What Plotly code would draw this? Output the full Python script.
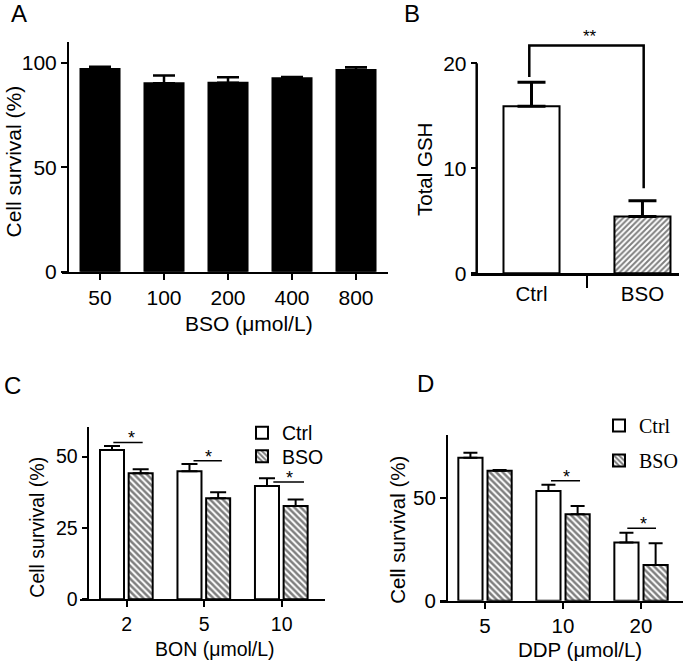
import plotly.graph_objects as go

W, H = 685, 662
FONT = "Arial, Liberation Sans, sans-serif"
SERIF = "Times New Roman, Liberation Serif, serif"

# ---------------- data ----------------
a_cats = ["50", "100", "200", "400", "800"]
a_vals = [97.0, 90.1, 90.4, 92.5, 96.5]
a_err = [1.0, 3.7, 2.6, 0.6, 1.3]

b_cats = ["Ctrl", "BSO"]
b_vals = [15.9, 5.4]
b_err = [2.3, 1.5]
b_sig_y = [18.7, 21.7, 8.1]   # left leg bottom, top, right leg bottom

c_cats = ["2", "5", "10"]
c_ctrl = [52.3, 44.9, 39.7]
c_ctrl_err = [1.4, 2.5, 2.7]
c_bso = [44.2, 35.4, 32.7]
c_bso_err = [1.4, 2.1, 2.3]
c_sig = [55.0, 48.6, 41.1]

d_cats = ["5", "10", "20"]
d_ctrl = [69.4, 53.2, 28.3]
d_ctrl_err = [2.4, 3.0, 4.7]
d_bso = [63.1, 41.9, 17.3]
d_bso_err = [0.3, 4.1, 10.6]
d_sig = [None, 58.2, 35.1]


def px_x(p):
    return p / W


def px_y(p):
    return 1 - p / H


fig = go.Figure()

# ---------------- Panel A ----------------
fig.add_trace(go.Bar(
    x=a_cats, y=a_vals, width=0.61,
    marker=dict(color="black", line=dict(color="black", width=2)),
    error_y=dict(type="data", symmetric=False, array=a_err,
                 arrayminus=[0] * len(a_err), color="black", thickness=2.5, width=11),
    xaxis="x", yaxis="y", showlegend=False))

# ---------------- Panel B ----------------
fig.add_trace(go.Bar(
    x=[0, 1], y=b_vals, width=0.505,
    marker=dict(color="white", line=dict(color="black", width=2),
                pattern=dict(shape=["", "/"], fgcolor="black", bgcolor="white",
                             size=4, solidity=0.5)),
    error_y=dict(type="data", symmetric=False, array=b_err,
                 arrayminus=[0, 0], color="black", thickness=3, width=14),
    xaxis="x2", yaxis="y2", showlegend=False))

# ---------------- Panel C ----------------
fig.add_trace(go.Bar(
    x=c_cats, y=c_ctrl, name="Ctrl", width=0.31, offset=-0.345,
    marker=dict(color="white", line=dict(color="black", width=2)),
    error_y=dict(type="data", symmetric=False, array=c_ctrl_err,
                 arrayminus=[0] * 3, color="black", thickness=2, width=8),
    xaxis="x3", yaxis="y3", legend="legend"))
fig.add_trace(go.Bar(
    x=c_cats, y=c_bso, name="BSO", width=0.31, offset=0.025,
    marker=dict(color="white", line=dict(color="black", width=2),
                pattern=dict(shape="\\", fgcolor="black", bgcolor="white",
                             size=4.5, solidity=0.55)),
    error_y=dict(type="data", symmetric=False, array=c_bso_err,
                 arrayminus=[0] * 3, color="black", thickness=2, width=8),
    xaxis="x3", yaxis="y3", legend="legend3"))

# ---------------- Panel D ----------------
fig.add_trace(go.Bar(
    x=d_cats, y=d_ctrl, name="Ctrl", width=0.31, offset=-0.342,
    marker=dict(color="white", line=dict(color="black", width=2)),
    error_y=dict(type="data", symmetric=False, array=d_ctrl_err,
                 arrayminus=[0] * 3, color="black", thickness=2, width=7),
    xaxis="x4", yaxis="y4", legend="legend2"))
fig.add_trace(go.Bar(
    x=d_cats, y=d_bso, name="BSO", width=0.31, offset=0.032,
    marker=dict(color="white", line=dict(color="black", width=2),
                pattern=dict(shape="\\", fgcolor="black", bgcolor="white",
                             size=4.5, solidity=0.55)),
    error_y=dict(type="data", symmetric=False, array=d_bso_err,
                 arrayminus=[0] * 3, color="black", thickness=2, width=7),
    xaxis="x4", yaxis="y4", legend="legend4"))


def axis_common(size):
    return dict(showgrid=False, zeroline=False, showline=True, linecolor="black",
                linewidth=2, ticks="outside", tickcolor="black", tickwidth=2,
                automargin=False,
                tickfont=dict(family=FONT, size=size, color="black"), fixedrange=True)


fig.update_layout(
    # Panel A
    xaxis=dict(axis_common(21), domain=[px_x(62), px_x(388)], range=[-0.594, 4.5],
               anchor="y", type="category", ticklen=6),
    yaxis=dict(axis_common(21), domain=[px_y(271.7), px_y(41.7)], range=[0, 110],
               anchor="free", position=px_x(68), tickvals=[0, 50, 100], ticklen=6),
    # Panel B
    xaxis2=dict(axis_common(20.5), domain=[px_x(470.7), px_x(679.3)], range=[-0.548, 1.332],
                anchor="y2", tickvals=[0, 1], ticktext=b_cats, ticks="", linewidth=2.5,
                minor=dict(tickvals=[0.5], ticks="outside", ticklen=12, tickwidth=2,
                           tickcolor="black")),
    yaxis2=dict(axis_common(21), domain=[px_y(273.3), px_y(42.3)], range=[0, 22],
                anchor="free", position=px_x(476.7), tickvals=[0, 10, 20], ticklen=6,
                showline=False),
    # Panel C
    xaxis3=dict(axis_common(19.5), domain=[px_x(80), px_x(325)], range=[-0.603, 2.559],
                anchor="y3", type="category", ticklen=6),
    yaxis3=dict(axis_common(19.5), domain=[px_y(599.3), px_y(426.7)], range=[0, 60.5],
                anchor="free", position=px_x(88.3), tickvals=[0, 25, 50], ticklen=6,
                linewidth=1.5),
    # Panel D
    xaxis4=dict(axis_common(20.5), domain=[px_x(440), px_x(683)], range=[-0.577, 2.538],
                anchor="y4", type="category", ticklen=6),
    yaxis4=dict(axis_common(20.5), domain=[px_y(600.7), px_y(435)], range=[0, 80.4],
                anchor="free", position=px_x(446.7), tickvals=[0, 50], ticklen=6,
                linewidth=1.5),
)

shapes = []
# Panel B y-axis line from 0 to 20 only
yb0, yb1 = px_y(273.3), px_y(42.3)
shapes.append(dict(type="line", xref="paper", yref="paper",
                   x0=px_x(476.7), x1=px_x(476.7), y0=yb0,
                   y1=yb0 + (yb1 - yb0) * 20 / 22,
                   line=dict(color="black", width=2.5)))
# Panel B significance bracket
shapes.append(dict(type="path", xref="x2", yref="y2",
                   path=f"M -0.02,{b_sig_y[0]} L -0.02,{b_sig_y[1]} L 1.011,{b_sig_y[1]} L 1.011,{b_sig_y[2]}",
                   line=dict(color="black", width=2.5)))

# Panel C significance lines
c_sig_x = [(-0.173, 0.206), (-0.138, 0.228), (-0.108, 0.288)]
for i, yv in enumerate(c_sig):
    x0, x1 = c_sig_x[i]
    shapes.append(dict(type="line", xref="x3", yref="y3", x0=i + x0, x1=i + x1,
                       y0=yv, y1=yv, line=dict(color="black", width=1.5)))
d_sig_x = [None, (-0.154, 0.218), (-0.176, 0.192)]
for i, yv in enumerate(d_sig):
    if yv is None:
        continue
    x0, x1 = d_sig_x[i]
    shapes.append(dict(type="line", xref="x4", yref="y4", x0=i + x0, x1=i + x1,
                       y0=yv, y1=yv, line=dict(color="black", width=1.5)))

ann = []
# Panel letters
for t, x, y in [("A", 19, 13.5), ("B", 411.5, 13.5), ("C", 12.5, 385), ("D", 425, 383.5)]:
    ann.append(dict(text=t, x=px_x(x), y=px_y(y), xref="paper", yref="paper",
                    showarrow=False, xanchor="center", yanchor="middle",
                    font=dict(family=FONT, size=24, color="black")))
# Axis titles
for t, x, y, ang, sz in [("Cell survival (%)", 13.5, 162, -90, 21),
                         ("BSO (\u03bcmol/L)", 249, 323, 0, 21),
                         ("Total GSH", 425, 170, -90, 20.5),
                         ("Cell survival (%)", 36.7, 527, -90, 19.5),
                         ("BON (\u03bcmol/L)", 215, 649, 0, 19.5),
                         ("Cell survival (%)", 396.7, 530, -90, 20.5),
                         ("DDP (\u03bcmol/L)", 580, 649, 0, 20.5)]:
    ann.append(dict(text=t, x=px_x(x), y=px_y(y), xref="paper", yref="paper",
                    showarrow=False, xanchor="center", yanchor="middle",
                    textangle=ang, font=dict(family=FONT, size=sz, color="black")))
# Stars
ann.append(dict(text="**", x=0.527, y=b_sig_y[1], xref="x2", yref="y2", showarrow=False,
                yanchor="bottom", xanchor="center", yshift=-3,
                font=dict(family=FONT, size=17, color="black")))
c_star_x = [0.065, 0.052, 0.107]
for i, yv in enumerate(c_sig):
    ann.append(dict(text="*", x=i + c_star_x[i], y=yv, xref="x3", yref="y3", showarrow=False,
                    yanchor="bottom", xanchor="center", yshift=-8,
                    font=dict(family=FONT, size=18, color="black")))
d_star_x = [None, 0.047, 0.03]
for i, yv in enumerate(d_sig):
    if yv is None:
        continue
    ann.append(dict(text="*", x=i + d_star_x[i], y=yv, xref="x4", yref="y4", showarrow=False,
                    yanchor="bottom", xanchor="center", yshift=-8,
                    font=dict(family=FONT, size=18, color="black")))

leg_common = dict(xanchor="left", yanchor="middle", bgcolor="rgba(0,0,0,0)",
                  itemclick=False, itemdoubleclick=False)
fig.update_layout(
    width=W, height=H, autosize=False,
    margin=dict(l=0, r=0, t=0, b=0, pad=0, autoexpand=False),
    paper_bgcolor="white", plot_bgcolor="rgba(0,0,0,0)",
    barmode="overlay",
    shapes=shapes, annotations=ann,
    font=dict(family=FONT, size=19, color="black"),
    legend=dict(leg_common, x=px_x(242), y=px_y(433),
                font=dict(family=FONT, size=19.5, color="black")),
    legend3=dict(leg_common, x=px_x(242), y=px_y(456.5),
                 font=dict(family=FONT, size=19.5, color="black")),
    legend2=dict(leg_common, x=px_x(599), y=px_y(425.5),
                 font=dict(family=SERIF, size=20, color="black")),
    legend4=dict(leg_common, x=px_x(599), y=px_y(460.5),
                 font=dict(family=SERIF, size=20, color="black")),
)

fig.write_html("out.html",
               config={"displayModeBar": False, "responsive": False},
               post_script="document.body.style.margin='0';document.body.style.padding='0';document.body.style.overflow='hidden';")
